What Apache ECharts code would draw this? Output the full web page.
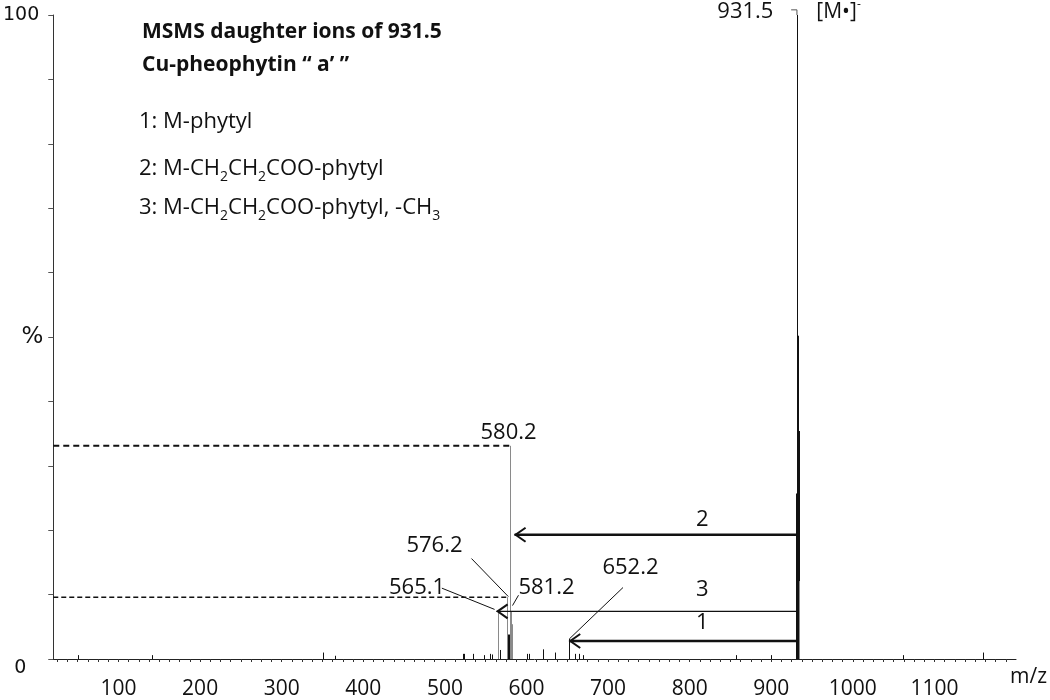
<!DOCTYPE html>
<html><head><meta charset="utf-8">
<script src="https://cdn.jsdelivr.net/npm/echarts@6/dist/echarts.min.js"></script>
<style>html,body{margin:0;padding:0;background:#fff}#c{width:1050px;height:700px}</style>
</head><body><div id="c"></div>
<script>
// ---------------- data ----------------
const xTickLabels = [100, 200, 300, 400, 500, 600, 700, 800, 900, 1000, 1100];
const yTickValues = [0, 50, 100];
const yTickLabels = ['0', '%', '100'];

// dark sticks (m/z, relative intensity %)
const peakMz  = [50, 141.5, 351, 365, 521.6, 523.5, 534.5, 548, 555.2, 558.2, 567.4, 577.2, 578.2, 579.2, 601, 602.8, 619.9, 635.4, 652.2, 659.8, 663.8, 668.7, 857, 899.6, 930.5, 931.5, 932.5, 933.5, 1062, 1160];
const peakInt = [0.6, 0.6, 1.0, 0.5, 0.8, 0.8, 0.8, 0.6, 0.8, 0.7, 1.4, 3.8, 3.8, 3.6, 0.8, 0.8, 1.5, 1.0, 3.1, 0.8, 0.8, 0.6, 0.6, 0.6, 25.7, 100, 50.2, 35.4, 0.6, 1.0];
// grey sticks
const greyMz  = [565.1, 576.2, 580.2, 581.2, 582.2, 934.5];
const greyInt = [7.6, 9.6, 33.1, 7.3, 5.4, 12.1];

// annotations, in data units (m/z, %)
const arrowNames = ['2', '3', '1'];
const arrowFrom  = [931.5, 931.5, 931.5];
const arrowTo    = [585.4, 563.4, 652.4];
const arrowY     = [19.3, 7.4, 2.8];
const arrowLabelMz = [815.5, 815.5, 815.5];
const arrowLabelY  = [21.6, 10.7, 5.7];

const dashY    = [33.1, 9.6];
const dashFrom = [20, 20];
const dashTo   = [580.2, 576.2];

const peakLabels   = ['580.2', '576.2', '565.1', '581.2', '652.2', '931.5'];
const peakLabelMz  = [578, 487.2, 465.9, 624.5, 727.5, 868.3];
const peakLabelY   = [35.2, 17.6, 11.0, 11.0, 14.1, 100.5];
// leader lines [x1, y1, x2, y2]
const leaders = [
  [532.6, 15.6, 577.7, 9.7],
  [496.3, 11.0, 560.9, 7.7],
  [590.2, 9.9, 582.9, 8.3],
  [718.3, 11.1, 652.4, 3.1],
];
const parentStub = [[924.4, 100.8], [931.5, 100.8], [931.5, 100]];
const ionLabelPos = [982.5, 100.5];

// ---------------- styles ----------------
const FONT = '"Open Sans", "Noto Sans", sans-serif';
const arrowWidth = [2.6, 1.4, 2.4];
const dashWidth = [2, 1.4];
const dashPattern = [[6, 4], [5, 3]];

const xTicks = [];
for (let v = 25; v < 1200; v += 12.5) xTicks.push(v);

function sticks(mzs, ints, color, width) {
  return {
    type: 'custom', coordinateSystem: 'cartesian2d', silent: true, clip: false,
    data: mzs.map((m, i) => [m, ints[i]]),
    renderItem: (params, api) => {
      const t = api.coord([api.value(0), api.value(1)]);
      const b = api.coord([api.value(0), 0]);
      const x = Math.round(t[0]) + 0.5;
      return { type: 'line', shape: { x1: x, y1: t[1], x2: x, y2: b[1] },
        style: { stroke: color, lineWidth: width } };
    }
  };
}

function annotations(params, api) {
  const P = (m, v) => api.coord([m, v]);
  const ch = [];
  const ink = '#111';
  dashY.forEach((y, i) => {
    const a = P(dashFrom[i], y), b = P(dashTo[i], y);
    ch.push({ type: 'line', shape: { x1: a[0], y1: a[1], x2: b[0], y2: b[1] },
      style: { stroke: ink, lineWidth: dashWidth[i], lineDash: dashPattern[i] } });
  });
  arrowNames.forEach((n, i) => {
    const a = P(arrowFrom[i], arrowY[i]), b = P(arrowTo[i], arrowY[i]);
    ch.push({ type: 'line', shape: { x1: a[0], y1: a[1], x2: b[0], y2: b[1] },
      style: { stroke: ink, lineWidth: arrowWidth[i] } });
    ch.push({ type: 'polyline', shape: { points: [[b[0] + 11, b[1] - 7], [b[0] + 1, b[1]], [b[0] + 11, b[1] + 7]] },
      style: { stroke: ink, lineWidth: 2, fill: null } });
    const l = P(arrowLabelMz[i], arrowLabelY[i]);
    ch.push({ type: 'text', style: { text: n, x: l[0], y: l[1], align: 'center', verticalAlign: 'middle',
      font: '22px ' + FONT, fill: ink } });
  });
  leaders.forEach(L => {
    const a = P(L[0], L[1]), b = P(L[2], L[3]);
    ch.push({ type: 'line', shape: { x1: a[0], y1: a[1], x2: b[0], y2: b[1] },
      style: { stroke: ink, lineWidth: 1 } });
  });
  ch.push({ type: 'polyline', shape: { points: parentStub.map(p => P(p[0], p[1])) },
    style: { stroke: '#555', lineWidth: 1, fill: null } });
  peakLabels.forEach((t, i) => {
    const p = P(peakLabelMz[i], peakLabelY[i]);
    ch.push({ type: 'text', style: { text: t, x: p[0], y: p[1], align: 'center', verticalAlign: 'middle',
      font: '22px ' + FONT, fill: ink } });
  });
  const ip = P(ionLabelPos[0], ionLabelPos[1]);
  ch.push({ type: 'text', style: { text: '{m|[M•]}{s|-}', x: ip[0], y: ip[1], align: 'center', verticalAlign: 'middle',
    rich: { m: { fontFamily: FONT, fontSize: 21, fill: ink, lineHeight: 26 },
            s: { fontFamily: FONT, fontSize: 12, fill: ink, verticalAlign: 'top', lineHeight: 12 } } } });
  return { type: 'group', children: ch };
}

const legendRich = {
  t: { fontFamily: FONT, fontSize: 22, fill: '#111', lineHeight: 30 },
  s: { fontFamily: FONT, fontSize: 14, fill: '#111', lineHeight: 14, verticalAlign: 'bottom' }
};

const chart = echarts.init(document.getElementById('c'), null, { renderer: 'canvas' });
chart.setOption({
  animation: false,
  backgroundColor: '#fff',
  grid: { left: 50, right: 32, top: 15, bottom: 38 },
  xAxis: {
    type: 'value', min: 20, max: 1200,
    name: 'm/z', nameLocation: 'end', nameGap: -6,
    nameTextStyle: { fontFamily: FONT, fontSize: 21, color: '#111', align: 'left', verticalAlign: 'top', padding: [8, 0, 0, 0] },
    axisLine: { lineStyle: { color: '#222', width: 1 } },
    axisTick: { show: true, length: 3, customValues: xTicks, lineStyle: { color: '#333' } },
    axisLabel: { customValues: xTickLabels, formatter: v => String(v), fontFamily: FONT, fontSize: 21, color: '#111', margin: 20 },
    splitLine: { show: false }
  },
  yAxis: {
    type: 'value', min: 0, max: 100, interval: 10,
    axisLine: { show: true, lineStyle: { color: '#333', width: 1 } },
    axisTick: { show: true, length: 5, lineStyle: { color: '#555' } },
    axisLabel: {
      customValues: yTickValues, margin: 8,
      formatter: v => { const i = yTickValues.indexOf(v); return ['{z|', '{p|', '{h|'][i] + yTickLabels[i] + '}'; },
      rich: {
        z: { fontFamily: 'DejaVu Sans', fontSize: 19, color: '#111', padding: [18, 19, 0, 0] },
        p: { fontFamily: 'DejaVu Sans', fontSize: 23, color: '#111', padding: [0, 2, 0, 0] },
        h: { fontFamily: 'DejaVu Sans', fontSize: 19, color: '#111', padding: [0, 6, 0, 0] }
      }
    },
    splitLine: { show: false }
  },
  graphic: [
    { type: 'text', x: 142, y: 32, style: { text: 'MSMS daughter ions of 931.5', font: 'bold 21px ' + FONT, fill: '#111', verticalAlign: 'middle' } },
    { type: 'text', x: 142, y: 65, style: { text: 'Cu-pheophytin \u201C a\u2019 \u201D', font: 'bold 21px ' + FONT, fill: '#111', verticalAlign: 'middle' } },
    { type: 'text', x: 139, y: 122, style: { text: '{t|1: M-phytyl}', rich: legendRich, verticalAlign: 'middle' } },
    { type: 'text', x: 139, y: 169, style: { text: '{t|2: M-CH}{s|2}{t|CH}{s|2}{t|COO-phytyl}', rich: legendRich, verticalAlign: 'middle' } },
    { type: 'text', x: 139, y: 208, style: { text: '{t|3: M-CH}{s|2}{t|CH}{s|2}{t|COO-phytyl, -CH}{s|3}', rich: legendRich, verticalAlign: 'middle' } }
  ],
  series: [
    sticks(peakMz, peakInt, '#111', 1),
    sticks(greyMz, greyInt, '#8a8a8a', 1),
    { type: 'custom', coordinateSystem: 'cartesian2d', silent: true, clip: false, data: [[0, 0]], renderItem: annotations }
  ]
});
</script></body></html>
